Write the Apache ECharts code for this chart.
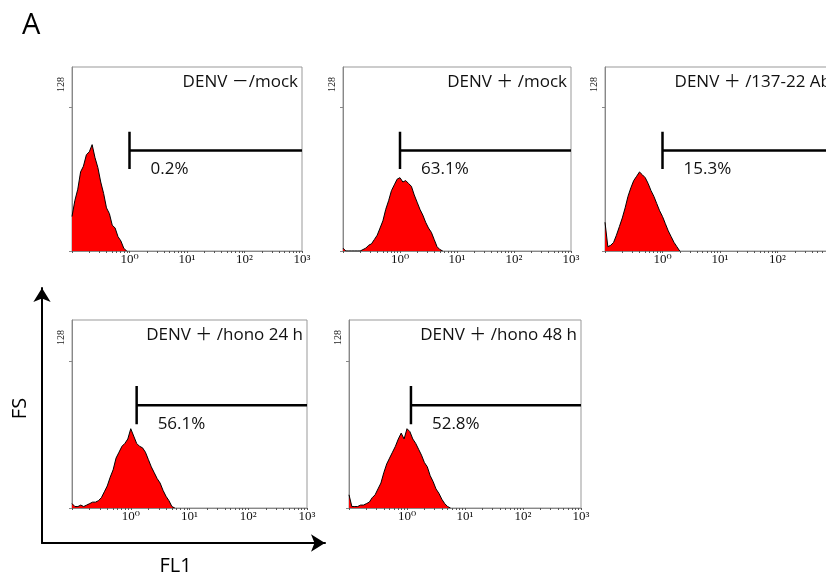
<!DOCTYPE html>
<html>
<head>
<meta charset="utf-8">
<script src="https://cdn.jsdelivr.net/npm/echarts@6.0.0/dist/echarts.min.js"></script>
<style>
  html, body { margin: 0; padding: 0; background: #fff; }
  #chart { width: 826px; height: 577px; }
</style>
</head>
<body>
<div id="chart"></div>
<script>
// FL1 bins (log steps of 0.05 from 10^-1)
var fl1Bins = [0.100, 0.112, 0.126, 0.141, 0.158, 0.178, 0.200, 0.224, 0.251, 0.282,
               0.316, 0.355, 0.398, 0.447, 0.501, 0.562, 0.631, 0.708, 0.794, 0.891,
               1.000, 1.122, 1.259, 1.413, 1.585, 1.778, 1.995, 2.239, 2.512, 2.818,
               3.162, 3.548, 3.981, 4.467, 5.012, 5.623];

// cell counts per bin, one list per panel (list ends where the histogram ends)
var countsMock = [24, 35, 43, 55, 59, 67, 69, 74, 65, 58, 48, 40, 30, 26, 18, 16, 10, 7, 2, 0];
var countsDenvMock = [2, 0, 0, 0, 0, 0, 0, 1, 2, 4, 5, 8, 11, 16, 21, 29, 35, 42, 46, 50,
                      51, 48, 49, 47, 45, 39, 34, 29, 25, 20, 16, 13, 8, 3, 1, 0];
var countsAb = [20, 3, 4, 6, 11, 17, 23, 30, 38, 44, 49, 52, 55, 53, 51, 47, 42, 38, 33, 28,
                24, 19, 14, 10, 6, 3, 0];
var countsHono24 = [3, 1, 1, 2, 1, 2, 3, 4, 4, 5, 7, 11, 15, 21, 26, 34, 38, 42, 44, 47,
                    54, 49, 44, 42, 41, 38, 33, 28, 24, 20, 17, 12, 8, 5, 1, 0];
var countsHono48 = [9, 1, 1, 1, 2, 2, 3, 4, 7, 9, 13, 17, 24, 30, 34, 38, 42, 47, 51, 47,
                    54, 52, 47, 44, 40, 36, 31, 28, 22, 18, 13, 10, 6, 3, 1, 0];

var panelTitles = ['DENV －/mock', 'DENV ＋ /mock', 'DENV ＋ /137-22 Ab', 'DENV ＋ /hono 24 h', 'DENV ＋ /hono 48 h'];
var panelCounts = [countsMock, countsDenvMock, countsAb, countsHono24, countsHono48];
var gateStart = [1.0, 1.0, 1.0, 1.26, 1.17];
var gatePercent = ['0.2%', '63.1%', '15.3%', '56.1%', '52.8%'];
var gateLevel = 70;
var gateBar = [57, 83];

var tickValues = [1, 10, 100, 1000];
var tickLabels = ['10⁰', '10¹', '10²', '10³'];
var yMax = 128;

var panelBoxes = [
    {left: 72, top: 67, width: 230, height: 184},
    {left: 343, top: 67, width: 228, height: 184},
    {left: 605, top: 67, width: 230, height: 184},
    {left: 72, top: 320, width: 235, height: 188},
    {left: 349, top: 320, width: 232, height: 188}
];

var sans = 'Open Sans, Noto Sans CJK SC, sans-serif';
var serif = 'Liberation Serif, DejaVu Serif, serif';

// minor ticks 1..9 of each decade
var minorTicks = [];
for (var d = 0.1; d < 1000; d *= 10) {
    for (var m = 1; m < 10; m++) minorTicks.push(+(d * m).toPrecision(3));
}
minorTicks.push(1000);

var option = {
    animation: false,
    backgroundColor: '#fff',
    title: [],
    grid: [],
    xAxis: [],
    yAxis: [],
    series: []
};

option.title.push({
    text: 'A', left: 22, top: 11, padding: 0,
    textStyle: {fontSize: 29, fontWeight: 'normal', fontFamily: sans, color: '#000'}
});

panelBoxes.forEach(function (box, i) {
    option.grid.push({
        left: box.left, top: box.top, width: box.width, height: box.height,
        show: true, borderColor: '#999', borderWidth: 1, containLabel: false,
        outerBoundsMode: 'none'
    });
    option.title.push({
        text: panelTitles[i],
        left: box.left + box.width - 4, top: box.top + 7, padding: 0, textAlign: 'right',
        textStyle: {fontSize: 17, fontWeight: 'normal', fontFamily: sans, color: '#111'}
    });
    option.xAxis.push({
        type: 'log', logBase: 10, min: 0.1, max: 1000, gridIndex: i,
        axisLine: {lineStyle: {color: '#888', width: 1}},
        axisTick: {show: true, customValues: minorTicks, length: 2, lineStyle: {color: '#555'}},
        axisLabel: {
            customValues: tickValues, margin: 2, fontSize: 13, fontFamily: serif, color: '#111',
            formatter: function (v) { return tickLabels[tickValues.indexOf(Math.round(v))]; }
        },
        splitLine: {show: false}, minorTick: {show: false}
    });
    option.yAxis.push({
        type: 'value', min: 0, max: yMax, gridIndex: i,
        axisLine: {show: true, lineStyle: {color: '#888', width: 1}},
        axisTick: {show: true, customValues: [0, 100], length: 3, lineStyle: {color: '#888'}},
        axisLabel: {
            customValues: [yMax], rotate: 90, align: 'right', padding: [0, 10, 0, 0],
            margin: 6, fontSize: 10, fontFamily: serif, color: '#222'
        },
        splitLine: {show: false}
    });
    option.series.push({
        type: 'line', xAxisIndex: i, yAxisIndex: i,
        data: panelCounts[i].map(function (c, j) { return [fl1Bins[j], c]; }),
        symbol: 'none',
        lineStyle: {color: '#000', width: 1},
        areaStyle: {color: '#ff0000', opacity: 1}
    });
    var g = gateStart[i];
    option.series.push({
        type: 'line', xAxisIndex: i, yAxisIndex: i,
        data: [
            [g, gateBar[1]],
            {value: [g, gateBar[0]], label: {
                show: true, position: 'right', distance: 21, formatter: gatePercent[i],
                fontSize: 17, fontFamily: sans, color: '#111'
            }},
            [g, gateLevel],
            [1000, gateLevel]
        ],
        showSymbol: true, symbol: 'circle', symbolSize: 0,
        label: {show: false},
        lineStyle: {color: '#000', width: 2.5}
    });
});

// outer FS / FL1 arrows
option.grid.push({left: 42, top: 288, width: 283, height: 259, show: false});
option.xAxis.push({
    type: 'value', gridIndex: 5, min: 0, max: 1,
    name: 'FL1', nameLocation: 'middle', nameGap: 13,
    nameTextStyle: {fontSize: 20, fontFamily: sans, color: '#000', padding: [0, 16, 0, 0]},
    axisLine: {show: true, symbol: ['none', 'arrow'], symbolSize: [13, 14],
               lineStyle: {color: '#000', width: 2}},
    axisTick: {show: false}, axisLabel: {show: false}, splitLine: {show: false}
});
option.yAxis.push({
    type: 'value', gridIndex: 5, min: 0, max: 1,
    name: 'FS', nameLocation: 'middle', nameGap: 12, nameRotate: 90,
    nameTextStyle: {fontSize: 20, fontFamily: sans, color: '#000', padding: [0, 0, 0, 14]},
    axisLine: {show: true, symbol: ['none', 'arrow'], symbolSize: [13, 14],
               lineStyle: {color: '#000', width: 2}},
    axisTick: {show: false}, axisLabel: {show: false}, splitLine: {show: false}
});

var myChart = echarts.init(document.getElementById('chart'));
myChart.setOption(option);
</script>
</body>
</html>
